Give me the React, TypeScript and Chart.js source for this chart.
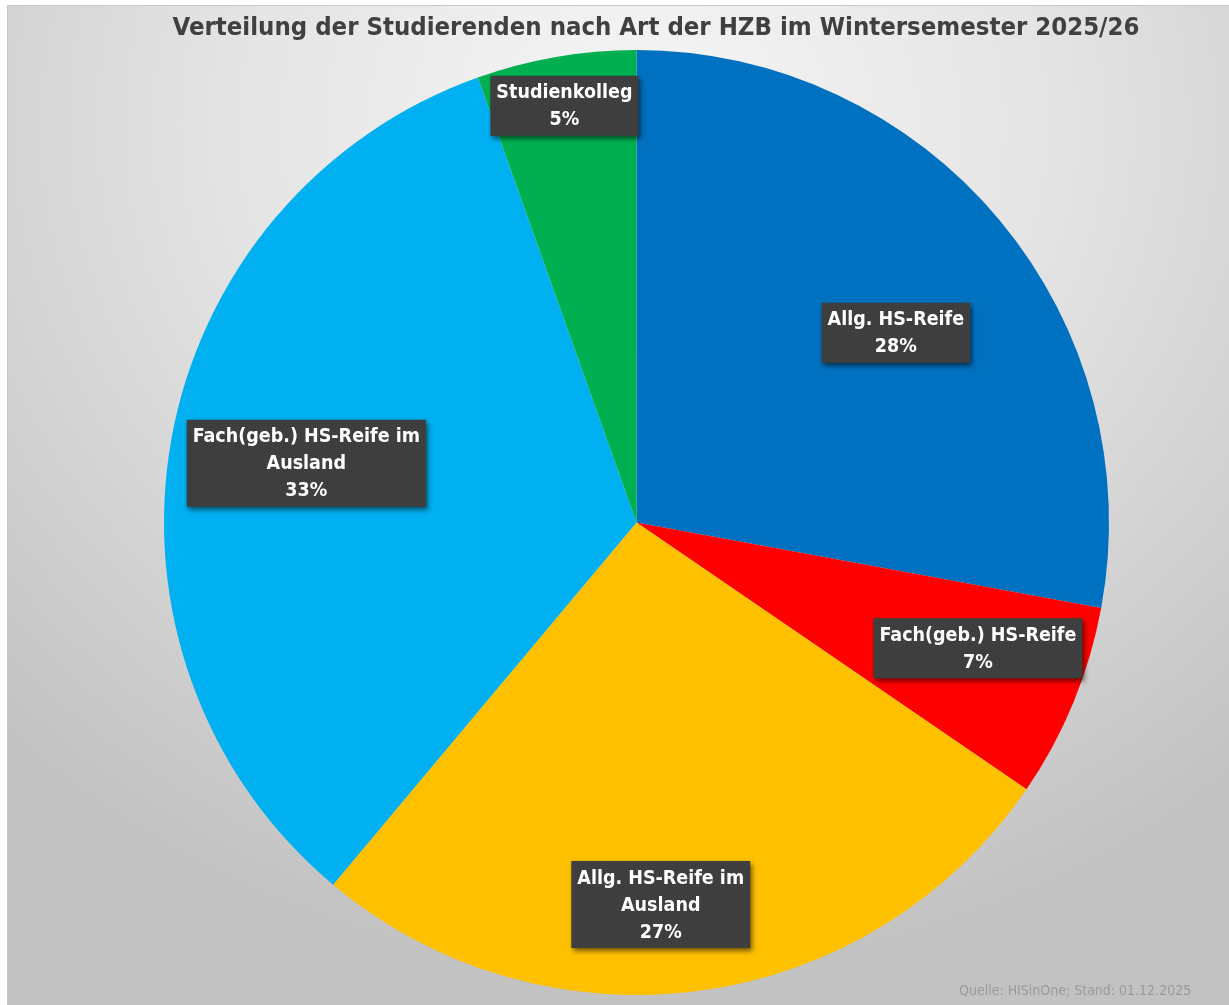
import React, { useEffect, useRef } from "react";
import { Chart, registerables } from "chart.js";

Chart.register(...registerables);

const TITLE = "Verteilung der Studierenden nach Art der HZB im Wintersemester 2025/26";
const SOURCE = "Quelle: HISinOne; Stand: 01.12.2025";
const categories = [
  "Allg. HS-Reife",
  "Fach(geb.) HS-Reife",
  "Allg. HS-Reife im Ausland",
  "Fach(geb.) HS-Reife im Ausland",
  "Studienkolleg",
];
const shares = [27.9, 6.65, 26.55, 33.45, 5.45];
const colors = ["#0070C0", "#FF0000", "#FFC000", "#00B0F0", "#00B050"];
const labelRadius = [0.68, 0.77, 0.81, 0.71, 0.895];
const labelAngleShift = [3.6, -2.2, 4.2, 0, 0];

const FONT = "'DejaVu Sans Condensed', 'DejaVu Sans', sans-serif";

function makePattern(ctx: CanvasRenderingContext2D) {
  const c = document.createElement("canvas");
  c.width = 4;
  c.height = 4;
  const p = c.getContext("2d")!;
  p.fillStyle = "#3d3d3d";
  p.fillRect(0, 0, 4, 4);
  p.fillStyle = "#474747";
  p.fillRect(0, 0, 1, 1);
  p.fillRect(2, 2, 1, 1);
  return ctx.createPattern(c, "repeat")!;
}

function wrap(ctx: CanvasRenderingContext2D, text: string, maxW: number) {
  const words = text.split(" ");
  const lines: string[] = [];
  let cur = "";
  for (const w of words) {
    const t = cur ? cur + " " + w : w;
    if (ctx.measureText(t).width > maxW && cur) {
      lines.push(cur);
      cur = w;
    } else cur = t;
  }
  if (cur) lines.push(cur);
  return lines;
}

const overlay = {
  id: "overlay",
  afterDraw(chart: any) {
    const ctx: CanvasRenderingContext2D = chart.ctx;
    const meta = chart.getDatasetMeta(0);
    const total = shares.reduce((a, b) => a + b, 0);
    ctx.save();
    // title
    ctx.fillStyle = "#404040";
    ctx.font = `bold 25.5px ${FONT}`;
    ctx.textAlign = "center";
    ctx.textBaseline = "middle";
    ctx.fillText(TITLE, 648, 22);
    // source
    ctx.font = `14px ${FONT}`;
    ctx.fillStyle = "#9a9a9a";
    ctx.textAlign = "left";
    ctx.fillText(SOURCE, 951, 985);

    const pattern = makePattern(ctx);
    ctx.font = `bold 19.5px ${FONT}`;
    meta.data.forEach((arc: any, i: number) => {
      const { x, y, outerRadius, startAngle, endAngle } = arc.getProps(
        ["x", "y", "outerRadius", "startAngle", "endAngle"],
        true
      );
      const mid = (startAngle + endAngle) / 2 + (labelAngleShift[i] * Math.PI) / 180;
      const r = outerRadius * labelRadius[i];
      const cx = x + Math.cos(mid) * r;
      const cy = y + Math.sin(mid) * r;
      const lines = wrap(ctx, categories[i], 240);
      lines.push(Math.round((shares[i] / total) * 100) + "%");
      const lh = 27;
      const w = Math.max(...lines.map((l) => ctx.measureText(l).width)) + 12;
      const h = lines.length * lh + 6;
      ctx.save();
      ctx.shadowColor = "rgba(0,0,0,0.55)";
      ctx.shadowBlur = 5;
      ctx.shadowOffsetX = 2;
      ctx.shadowOffsetY = 3;
      ctx.fillStyle = pattern;
      ctx.fillRect(cx - w / 2, cy - h / 2, w, h);
      ctx.restore();
      ctx.fillStyle = "#ffffff";
      ctx.textAlign = "center";
      ctx.textBaseline = "middle";
      lines.forEach((l, k) => {
        ctx.fillText(l, cx, cy - h / 2 + 3 + lh * k + lh / 2 + 1);
      });
    });
    ctx.restore();
  },
};

export default function App() {
  const ref = useRef<HTMLCanvasElement>(null);
  useEffect(() => {
    const chart = new Chart(ref.current!, {
      type: "pie",
      data: {
        labels: categories,
        datasets: [
          {
            data: shares,
            backgroundColor: colors,
            borderWidth: 0,
          },
        ],
      },
      options: {
        animation: false,
        responsive: false,
        maintainAspectRatio: false,
        layout: { padding: { left: 156, right: 120, top: 44, bottom: 10 } },
        plugins: {
          legend: { display: false },
          title: { display: false },
          tooltip: { enabled: false },
        },
      },
      plugins: [overlay],
    });
    return () => chart.destroy();
  }, []);
  return (
    <div
      style={{
        position: "fixed",
        left: 7,
        top: 5,
        width: 1222,
        height: 1000,
        borderTop: "1px solid #c8c8c8",
        borderLeft: "1px solid #c8c8c8",
        boxSizing: "border-box",
        background:
          "radial-gradient(ellipse 75% 85% at 52% 12%, #f6f6f6 0%, #e4e4e4 45%, #c2c2c2 100%)",
      }}
    >
      <canvas ref={ref} width={1221} height={999} style={{ display: "block" }} />
    </div>
  );
}
